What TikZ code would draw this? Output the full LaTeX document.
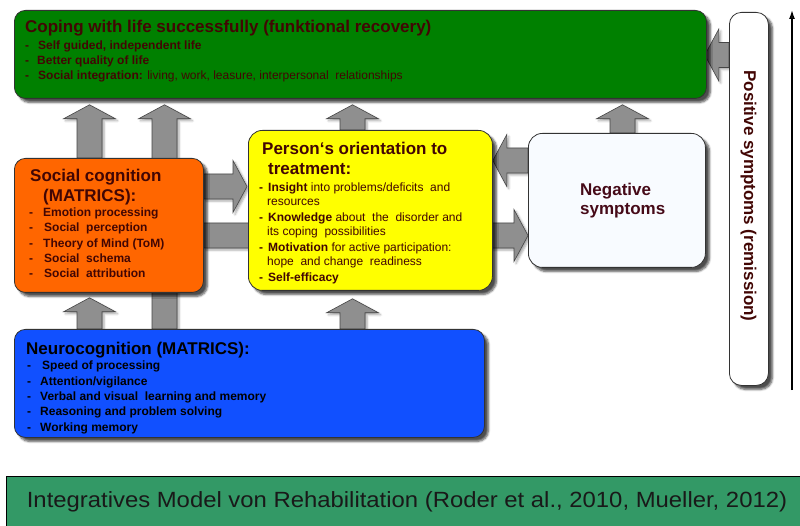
\documentclass[tikz,border=0pt]{standalone}
\usepackage{fontspec}
\setmainfont{Liberation Sans}
\usetikzlibrary{calc,arrows.meta,shadows.blur}
\pgfdeclarelayer{arrows}
\pgfsetlayers{arrows,main}

\definecolor{lifegreen}{RGB}{0,128,0}
\definecolor{socorange}{RGB}{255,102,0}
\definecolor{orientyellow}{RGB}{255,255,0}
\definecolor{neuroblue}{RGB}{17,80,255}
\definecolor{negwhite}{RGB}{248,251,255}
\definecolor{bannergreen}{RGB}{51,153,102}
\definecolor{arrgray}{RGB}{143,143,143}
\definecolor{arredge}{RGB}{70,70,70}
\definecolor{ink}{RGB}{66,6,4}
\definecolor{inkneg}{RGB}{70,10,24}

\newcommand\hdfont{\fontsize{17}{20}\selectfont\bfseries}
\newcommand\neurofont{\fontsize{17}{20}\selectfont\bfseries}
\newcommand\itfont{\fontsize{12}{14}\selectfont}
\newcommand\capfont{\fontsize{22}{26}\selectfont}

% block arrow dimensions
\newcommand\arrsw{12.5pt}
\newcommand\arrhw{26pt}
\newcommand\arrhl{14pt}

% vertical block arrow pointing up: #1 base, #2 tip
\newcommand\blkup[2]{%
  \draw[blockarr] let \p1=#1, \p2=#2 in
    ({\x1-\arrsw},{\y1}) -- ({\x1-\arrsw},{\y2-\arrhl}) -- ({\x1-\arrhw},{\y2-\arrhl})
    -- ({\x1},{\y2}) -- ({\x1+\arrhw},{\y2-\arrhl}) -- ({\x1+\arrsw},{\y2-\arrhl})
    -- ({\x1+\arrsw},{\y1}) -- cycle;}
% horizontal block arrow: #1 base, #2 tip, #3 = 1 (right) or -1 (left)
\newcommand\blkh[3]{%
  \draw[blockarr] let \p1=#1, \p2=#2 in
    ({\x1},{\y1+\arrsw}) -- ({\x2-(#3)*\arrhl},{\y1+\arrsw}) -- ({\x2-(#3)*\arrhl},{\y1+\arrhw})
    -- ({\x2},{\y1}) -- ({\x2-(#3)*\arrhl},{\y1-\arrhw}) -- ({\x2-(#3)*\arrhl},{\y1-\arrsw})
    -- ({\x1},{\y1-\arrsw}) -- cycle;}

\tikzset{
  box/.style={draw=black!80, line width=0.8pt, rounded corners=11pt, anchor=north west,
    inner sep=0pt, blur shadow={shadow xshift=4pt, shadow yshift=-4pt,
    shadow blur steps=6, shadow opacity=70}},
  blockarr/.style={fill=arrgray, draw=arredge, line width=0.6pt, line join=miter,
    blur shadow={shadow xshift=2pt, shadow yshift=-2pt, shadow blur steps=4, shadow opacity=35}},
  lbl/.style={anchor=base west, inner sep=0pt, text=ink},
  nlbl/.style={anchor=base west, inner sep=0pt, text=black},
}

\begin{document}
\begin{tikzpicture}[x=1pt,y=-1pt]
\useasboundingbox (0,0) rectangle (800,526);

% boxes
\node[box, fill=lifegreen, minimum width=692pt, minimum height=88pt] (life) at (14,10) {};
\node[box, fill=socorange, minimum width=189pt, minimum height=134pt] (soc) at (14,158) {};
\node[box, fill=orientyellow, minimum width=244pt, minimum height=160pt, rounded corners=14pt] (orient) at (248,130) {};
\node[box, fill=negwhite, minimum width=177pt, minimum height=134pt, rounded corners=14pt] (neg) at (528,133) {};
\node[box, fill=neuroblue, minimum width=470pt, minimum height=108pt] (neuro) at (14,329) {};
\node[box, fill=white, minimum width=39pt, minimum height=373pt, rounded corners=12pt] (pos) at (729,12) {};

% guide coordinates for the arrows
\coordinate (xa) at (89.5,0);
\coordinate (xb) at (164.5,0);
\coordinate (xc) at (352.5,0);
\coordinate (xd) at (622.5,0);
\coordinate (ya) at (0,186.5);
\coordinate (yb) at (0,235.5);
\coordinate (yc) at (0,160.5);
\coordinate (yd) at (0,55);

\begin{pgfonlayer}{arrows}
  \blkup{(soc.north -| xa)}{($(life.south -| xa)+(0,6)$)}
  \blkup{(neuro.north -| xb)}{($(life.south -| xb)+(0,6)$)}
  \blkup{(neuro.north -| xa)}{($(soc.south -| xa)+(0,5)$)}
  \blkup{(neuro.north -| xc)}{($(orient.south -| xc)+(0,8)$)}
  \blkup{(orient.north -| xc)}{($(life.south -| xc)+(0,6)$)}
  \blkup{(neg.north -| xd)}{($(life.south -| xd)+(0,6)$)}
  \blkh{(soc.east |- ya)}{($(orient.west |- ya)+(-1,0)$)}{1}
  \blkh{(soc.east |- yb)}{(neg.west |- yb)}{1}
  \blkh{(neg.west |- yc)}{(orient.east |- yc)}{-1}
  \blkh{(pos.west |- yd)}{($(life.east |- yd)+(-2,0)$)}{-1}
\end{pgfonlayer}

% coping with life
\node[lbl, font=\hdfont] (lifet) at (25,33) {Coping with life successfully (funktional recovery)};
\node[lbl, font=\itfont\bfseries] (life1) at (25,50) {\makebox[13pt][l]{-}Self guided, independent life};
\node[lbl, font=\itfont\bfseries] (life2) at (25,65) {\makebox[12pt][l]{-}Better quality of life};
\node[lbl, font=\itfont] (life3) at (25,80) {\makebox[13pt][l]{\bfseries -}\textbf{Social integration:} living, work, leasure, interpersonal\ \ relationships};

% social cognition
\node[lbl, font=\hdfont] (soct1) at (30,182) {Social cognition};
\node[lbl, font=\hdfont] (soct2) at (43,202) {(MATRICS):};
\node[lbl, font=\itfont\bfseries] (soc1) at (29,217) {\makebox[14pt][l]{-}Emotion processing};
\node[lbl, font=\itfont\bfseries] (soc2) at (29,232) {\makebox[15pt][l]{-}Social\ \ perception};
\node[lbl, font=\itfont\bfseries] (soc3) at (29,247.5) {\makebox[14pt][l]{-}Theory of Mind (ToM)};
\node[lbl, font=\itfont\bfseries] (soc4) at (29,262.5) {\makebox[15pt][l]{-}Social\ \ schema};
\node[lbl, font=\itfont\bfseries] (soc5) at (29,278) {\makebox[15pt][l]{-}Social\ \ attribution};

% orientation to treatment
\node[lbl, font=\hdfont] (ort1) at (262,155) {Person‘s orientation to};
\node[lbl, font=\hdfont] (ort2) at (268,175) {treatment:};
\node[lbl, font=\itfont] (or1) at (259,192) {\makebox[9pt][l]{\bfseries -}\textbf{Insight} into problems/deficits\ \ and};
\node[lbl, font=\itfont] (or2) at (267,206) {resources};
\node[lbl, font=\itfont] (or3) at (259,222) {\makebox[9pt][l]{\bfseries -}\textbf{Knowledge} about\ \ the\ \ disorder and};
\node[lbl, font=\itfont] (or4) at (267,236) {its coping\ \ possibilities};
\node[lbl, font=\itfont] (or5) at (259,252) {\makebox[9pt][l]{\bfseries -}\textbf{Motivation} for active participation:};
\node[lbl, font=\itfont] (or6) at (267,266) {hope\ \ and change\ \ readiness};
\node[lbl, font=\itfont\bfseries] (or7) at (259,282) {\makebox[9pt][l]{-}Self-efficacy};

% negative symptoms
\node[lbl, text=inkneg, font=\hdfont] (negt1) at (580,196) {Negative};
\node[lbl, text=inkneg, font=\hdfont] (negt2) at (580,215) {symptoms};

% neurocognition
\node[nlbl, font=\neurofont] (neurot) at (26,355) {Neurocognition (MATRICS):};
\node[nlbl, font=\itfont\bfseries] (neu1) at (27,370) {\makebox[15pt][l]{-}Speed of processing};
\node[nlbl, font=\itfont\bfseries] (neu2) at (27,385) {\makebox[13pt][l]{-}Attention/vigilance};
\node[nlbl, font=\itfont\bfseries] (neu3) at (27,400) {\makebox[13pt][l]{-}Verbal and visual\ \ learning and memory};
\node[nlbl, font=\itfont\bfseries] (neu4) at (27,415) {\makebox[13pt][l]{-}Reasoning and problem solving};
\node[nlbl, font=\itfont\bfseries] (neu5) at (27,431) {\makebox[13pt][l]{-}Working memory};

% positive symptoms
\node[rotate=-90, inner sep=0pt, text=ink, font=\hdfont] (post) at (748.5,196) {Positive symptoms (remission)};

% axis arrow on the right
\coordinate (axisbot) at (792,390);
\coordinate (axistop) at (792,10);
\draw[line width=1.4pt, -{Latex[length=9pt,width=6pt]}] (axisbot) -- (axistop);

% caption banner
\node[draw=black, line width=0.8pt, fill=bannergreen, anchor=north west, inner sep=0pt,
      minimum width=810pt, minimum height=60pt] (banner) at (6,476) {};
\node[inner sep=0pt, font=\capfont, text=black!90] (caption) at (407,502)
  {\scalebox{1.085}[1]{Integratives Model von Rehabilitation (Roder et al., 2010, Mueller, 2012)}};
\end{tikzpicture}
\end{document}
